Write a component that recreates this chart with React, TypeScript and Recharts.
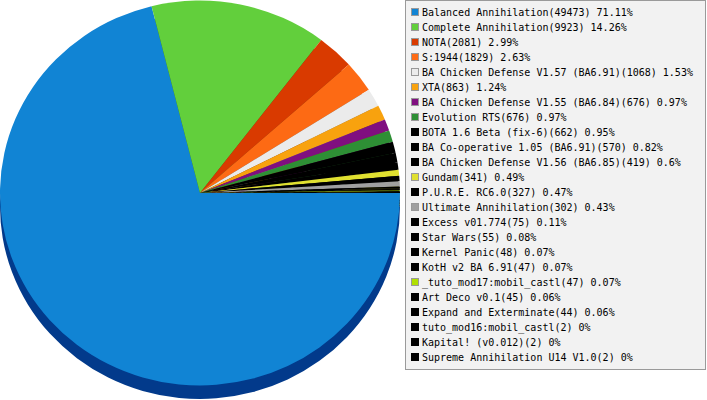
import React from "react";
import { PieChart, Pie, Cell } from "recharts";

const names = [
  "Balanced Annihilation",
  "Complete Annihilation",
  "NOTA",
  "S:1944",
  "BA Chicken Defense V1.57 (BA6.91)",
  "XTA",
  "BA Chicken Defense V1.55 (BA6.84)",
  "Evolution RTS",
  "BOTA 1.6 Beta (fix-6)",
  "BA Co-operative 1.05 (BA6.91)",
  "BA Chicken Defense V1.56 (BA6.85)",
  "Gundam",
  "P.U.R.E. RC6.0",
  "Ultimate Annihilation",
  "Excess v01.774",
  "Star Wars",
  "Kernel Panic",
  "KotH v2 BA 6.91",
  "_tuto_mod17:mobil_castl",
  "Art Deco v0.1",
  "Expand and Exterminate",
  "tuto_mod16:mobil_castl",
  "Kapital! (v0.012)",
  "Supreme Annihilation U14 V1.0",
];

const values = [
  49473, 9923, 2081, 1829, 1068, 863, 676, 676, 662, 570, 419, 341, 327, 302,
  75, 55, 48, 47, 47, 45, 44, 2, 2, 2,
];

const colors = [
  "#1184d4",
  "#62cf3c",
  "#d93a00",
  "#fd6a14",
  "#ebebeb",
  "#f8a20e",
  "#800f80",
  "#2e8f35",
  "#000000",
  "#000000",
  "#000000",
  "#e0e030",
  "#000000",
  "#a0a0a0",
  "#000000",
  "#000000",
  "#000000",
  "#000000",
  "#b0e000",
  "#000000",
  "#000000",
  "#000000",
  "#000000",
  "#000000",
];

const total = values.reduce((a, b) => a + b, 0);
const data = names.map((name, i) => ({ name, value: values[i] }));

function darken(hex: string, i: number): string {
  if (i === 0) return "#023a8b";
  const n = parseInt(hex.slice(1), 16);
  const r = Math.round(((n >> 16) & 255) * 0.5);
  const g = Math.round(((n >> 8) & 255) * 0.5);
  const b = Math.round((n & 255) * 0.5);
  return `rgb(${r},${g},${b})`;
}

function pct(v: number): string {
  return String(Number(((v / total) * 100).toFixed(2)));
}

export default function App() {
  const rowH = 15;
  return (
    <div
      style={{
        position: "absolute",
        left: 0,
        top: 0,
        width: 707,
        height: 400,
        background: "#ffffff",
        overflow: "hidden",
      }}
    >
      <div
        style={{
          position: "absolute",
          left: 0,
          top: 0,
          width: 402,
          height: 416,
          transform: "scaleY(0.9625)",
          transformOrigin: "0 0",
        }}
      >
        <PieChart
          width={402}
          height={416}
          margin={{ top: 0, right: 0, bottom: 0, left: 0 }}
        >
          <Pie
            data={data}
            dataKey="value"
            nameKey="name"
            cx={200}
            cy={214.5}
            outerRadius={200}
            innerRadius={0}
            startAngle={0}
            endAngle={-360}
            stroke="none"
            isAnimationActive={false}
          >
            {data.map((d, i) => (
              <Cell key={`s${i}`} fill={darken(colors[i], i)} />
            ))}
          </Pie>
          <Pie
            data={data}
            dataKey="value"
            nameKey="name"
            cx={200}
            cy={200.5}
            outerRadius={200}
            innerRadius={0}
            startAngle={0}
            endAngle={-360}
            stroke="none"
            isAnimationActive={false}
          >
            {data.map((d, i) => (
              <Cell key={`t${i}`} fill={colors[i]} />
            ))}
          </Pie>
        </PieChart>
      </div>
      <svg
        width={707}
        height={400}
        style={{ position: "absolute", left: 0, top: 0 }}
      >
        <rect
          x={405.5}
          y={0.5}
          width={300}
          height={369}
          fill="#f2f2f2"
          stroke="#9a9a9a"
          strokeWidth={1}
        />
        {data.map((d, i) => (
          <g key={`l${i}`}>
            <rect
              x={411.5}
              y={8.5 + i * rowH}
              width={7}
              height={7}
              fill={colors[i]}
              stroke={colors[i] === "#000000" ? "#000000" : "#999999"}
              strokeWidth={1}
            />
            <text
              x={422}
              y={16 + i * rowH}
              fontFamily="'DejaVu Sans Mono', monospace"
              fontSize={10}
              fill="#000000"
            >
              {`${d.name}(${d.value}) ${pct(d.value)}%`}
            </text>
          </g>
        ))}
      </svg>
    </div>
  );
}
